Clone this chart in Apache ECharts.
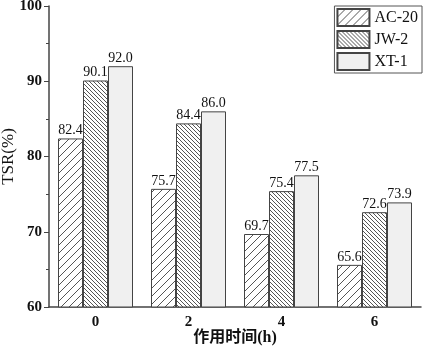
<!DOCTYPE html>
<html>
<head>
<meta charset="utf-8">
<script src="https://cdn.jsdelivr.net/npm/echarts@6/dist/echarts.min.js"></script>
<style>
  html, body { margin: 0; padding: 0; background: #fff; }
  #chart { width: 425px; height: 356px; }
</style>
</head>
<body>
<div id="chart"></div>
<script>
// 数据
var hours = ["0", "2", "4", "6"];
var seriesNames = ["AC-20", "JW-2", "XT-1"];
var ac20 = [82.4, 75.7, 69.7, 65.6];
var jw2 = [90.1, 84.4, 75.4, 72.6];
var xt1 = [92.0, 86.0, 77.5, 73.9];

var serif = "Liberation Serif, Times New Roman, Noto Sans CJK SC, serif";

// 斜线填充
function hatch(size, dir, bg, stroke, lw) {
    var c = document.createElement("canvas");
    c.width = size;
    c.height = size;
    var ctx = c.getContext("2d");
    ctx.fillStyle = bg;
    ctx.fillRect(0, 0, size, size);
    ctx.strokeStyle = stroke;
    ctx.lineWidth = lw;
    ctx.beginPath();
    for (var k = -1; k <= 1; k++) {
        if (dir > 0) {
            ctx.moveTo(k * size, size);
            ctx.lineTo(k * size + size, 0);
        } else {
            ctx.moveTo(k * size, 0);
            ctx.lineTo(k * size + size, size);
        }
    }
    ctx.stroke();
    return c;
}

var patA = { image: hatch(8, 1, "#ffffff", "#555555", 1), repeat: "repeat" };
var patB = { image: hatch(4, -1, "#ffffff", "#555555", 1), repeat: "repeat" };
var fillC = "#f0f0f0";

function barSeries(name, data, fill) {
    return {
        name: name,
        type: "bar",
        xAxisIndex: 0,
        data: data,
        barWidth: 25,
        barGap: "0%",
        itemStyle: {
            color: fill,
            borderColor: "#444",
            borderWidth: 1
        },
        label: {
            show: true,
            position: "top",
            distance: 1,
            fontFamily: serif,
            fontSize: 14,
            color: "#111",
            formatter: function (p) { return p.value.toFixed(1); }
        }
    };
}

var chart = echarts.init(document.getElementById("chart"));
var option = {
    backgroundColor: "#fff",
    animation: false,
    grid: { left: 49, right: 4, top: 6, bottom: 49, containLabel: false, outerBoundsMode: "none" },
    legend: {
        orient: "vertical",
        right: 3,
        top: 6,
        data: seriesNames,
        icon: "rect",
        itemWidth: 32,
        itemHeight: 17,
        itemGap: 3,
        borderColor: "#555",
        borderWidth: 1,
        borderRadius: 0,
        padding: [2, 4, 2, 2],
        textStyle: { fontFamily: serif, fontSize: 16, color: "#111" }
    },
    xAxis: [
        {
            type: "category",
            position: "bottom",
            data: hours,
            name: "作用时间(h)",
            nameLocation: "middle",
            nameGap: 23,
            nameMoveOverlap: false,
            nameTextStyle: { fontFamily: serif, fontSize: 16, fontWeight: "bold", color: "#111" },
            axisLine: { lineStyle: { color: "#444", width: 1.5 } },
            axisTick: { alignWithLabel: true, length: 6, lineStyle: { color: "#444" } },
            axisLabel: { margin: 8, fontFamily: serif, fontSize: 15, fontWeight: "bold", color: "#111" }
        },
        {
            type: "category",
            position: "bottom",
            data: hours,
            axisLine: { show: false },
            axisTick: { length: 3, lineStyle: { color: "#444" } },
            axisLabel: { show: false }
        }
    ],
    yAxis: {
        type: "value",
        min: 60,
        max: 100,
        interval: 10,
        name: "TSR(%)",
        nameLocation: "middle",
        nameGap: 32,
        nameMoveOverlap: false,
        nameTextStyle: { fontFamily: serif, fontSize: 17, color: "#111" },
        axisLine: { show: true, lineStyle: { color: "#444", width: 1.5 } },
        axisTick: { show: true, length: 5, lineStyle: { color: "#444" } },
        minorTick: { show: true, splitNumber: 2, length: 3, lineStyle: { color: "#444" } },
        splitLine: { show: false },
        axisLabel: { margin: 7, fontFamily: serif, fontSize: 15, fontWeight: "bold", color: "#111" }
    },
    series: [
        barSeries(seriesNames[0], ac20, patA),
        barSeries(seriesNames[1], jw2, patB),
        barSeries(seriesNames[2], xt1, fillC)
    ]
};
chart.setOption(option);
</script>
</body>
</html>
